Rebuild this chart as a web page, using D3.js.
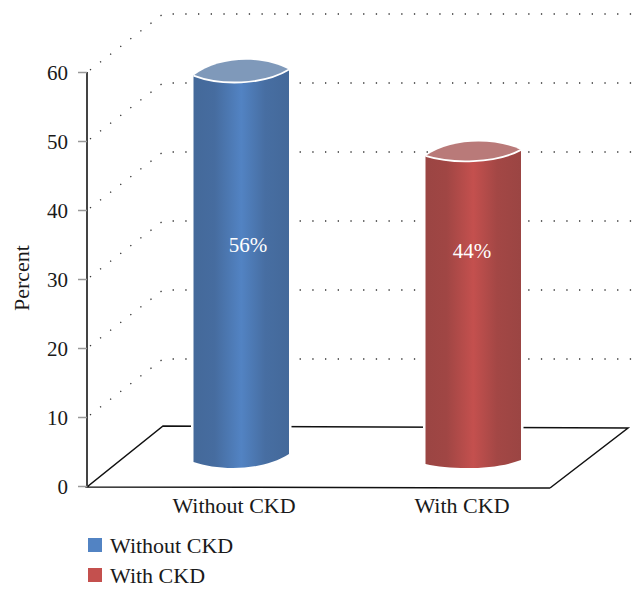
<!DOCTYPE html>
<html><head><meta charset="utf-8">
<script src="https://cdnjs.cloudflare.com/ajax/libs/d3/7.9.0/d3.min.js"></script>
<style>html,body{margin:0;padding:0;background:#fff}svg{display:block}text{font-family:"Liberation Serif",serif;fill:#1a1a1a}</style>
</head><body><svg id="c" width="642" height="597"></svg>
<script>
const categories = ["Without CKD", "With CKD"];
const values = [56, 44];
const valueLabels = ["56%", "44%"];
const yTicks = [0, 10, 20, 30, 40, 50, 60];
const edgeColors = ["#44699a", "#9b4543"];
const midColors = ["#5283c3", "#c4504e"];
const capColors = ["#7f99ba", "#b97a79"];

const svg = d3.select("#c");
const y = d3.scaleLinear().domain([0, 60]).range([486, 72]);
const cylX = d3.scaleBand().domain(categories).range([125, 589]);
const labelX = d3.scaleBand().domain(categories).range([120, 576]);
const x0 = 87, dx = 76, dy = 58, fx = 550, rightEdge = 642;
const halfW = 48, fs = 22;

// gradients
const defs = svg.append("defs");
categories.forEach((c, i) => {
  const g = defs.append("linearGradient").attr("id", "g" + i);
  [[0, 0.0], [0.22, 0.12], [0.5, 1], [0.75, 0.2], [1, 0]].forEach(([o, t]) =>
    g.append("stop").attr("offset", o).attr("stop-color", d3.interpolateRgb(edgeColors[i], midColors[i])(t)));
});

// dotted walls
const grid = yTicks.filter(d => d > 0);
svg.append("g").selectAll("path").data(grid).join("path")
  .attr("d", d => `M${x0 + 3},${y(d) - 2}L${x0 + dx},${y(d) - dy}L${rightEdge},${y(d) - dy}`)
  .attr("fill", "none").attr("stroke", "#333").attr("stroke-width", 1.3)
  .attr("stroke-dasharray", "1.3 11.4");

// floor
svg.append("path")
  .attr("d", `M${fx},${y(0) + 2}L${x0},${y(0) + 1}L${x0 + dx},${y(0) - 60}L628,${y(0) - 58}L${fx},${y(0) + 2}`)
  .attr("fill", "none").attr("stroke", "#111").attr("stroke-width", 1.5);

// cylinders: lift = how far the drawn column sits above the floor front edge
const lifts = [27, 29.5];
const capUp = [20, 18], capDown = [10, 8];
const bottomEnds = [[462, 454], [464, 460]];
const bottomCtrl = [471, 470];
const bars = svg.append("g").selectAll("g").data(categories).join("g");
bars.each(function (c, i) {
  const g = d3.select(this);
  const cx = cylX(c) + cylX.bandwidth() / 2;
  const L = cx - halfW + 0.5, R = cx + halfW, k = 26;
  const top = y(values[i]) - lifts[i];
  const tl = top + 3, tr = top - 3;
  const [bl, br] = bottomEnds[i];
  const lower = `C${L + k},${tl + capDown[i]} ${R - k},${tl + capDown[i]} ${R},${tr}`;
  const upper = `C${R - k},${tl - capUp[i]} ${L + k},${tl - capUp[i]} ${L},${tl}`;
  const body = `M${L},${tl}${lower}L${R},${br}C${R - k},${bottomCtrl[i]} ${L + k},${bottomCtrl[i]} ${L},${bl}Z`;
  g.append("path").attr("d", body).attr("fill", "none").attr("stroke", "#fff").attr("stroke-width", 5);
  g.append("path").attr("d", body).attr("fill", `url(#g${i})`);
  g.append("path").attr("d", `M${L},${tl}${lower}${upper}Z`).attr("fill", capColors[i]);
  g.append("path").attr("d", `M${L},${tl}${lower}`)
    .attr("fill", "none").attr("stroke", "#fff").attr("stroke-width", 1.8);
});

// value labels
svg.append("g").selectAll("text").data(categories).join("text")
  .attr("x", (d, i) => cylX(d) + cylX.bandwidth() / 2 + [7, -1][i])
  .attr("y", (d, i) => [252, 258][i])
  .attr("text-anchor", "middle").attr("font-size", fs - 1)
  .style("fill", "#fff")
  .text((d, i) => valueLabels[i]);

// y axis
const yAxis = d3.axisLeft(y).tickValues(yTicks).tickSize(9).tickPadding(10).tickFormat(d3.format("d"));
const ax = svg.append("g").attr("transform", `translate(${x0},0)`).call(yAxis);
ax.select(".domain").attr("stroke", "#444").attr("stroke-width", 2).attr("d", `M0,${y(60)}V${y(0) + 1}`);
ax.selectAll(".tick line").attr("stroke", "#999").attr("stroke-width", 1.5);
ax.selectAll(".tick text").attr("font-size", fs - 1).attr("dy", "0.36em").attr("font-family", '"Liberation Serif",serif').style("fill", "#1a1a1a");

// x-axis labels
svg.append("g").selectAll("text").data(categories).join("text")
  .attr("x", d => labelX(d) + labelX.bandwidth() / 2).attr("y", 513)
  .attr("text-anchor", "middle").attr("font-size", fs).text(d => d);

// y title
svg.append("text").attr("transform", "translate(29,278) rotate(-90)")
  .attr("text-anchor", "middle").attr("font-size", fs).text("Percent");

// legend
const leg = svg.append("g").selectAll("g").data(categories).join("g")
  .attr("transform", (d, i) => `translate(88,${538 + i * 30})`);
leg.append("rect").attr("width", 14).attr("height", 14).attr("fill", (d, i) => midColors[i]);
leg.append("text").attr("x", 22).attr("y", 14.5).attr("font-size", fs).text(d => d);
</script></body></html>
